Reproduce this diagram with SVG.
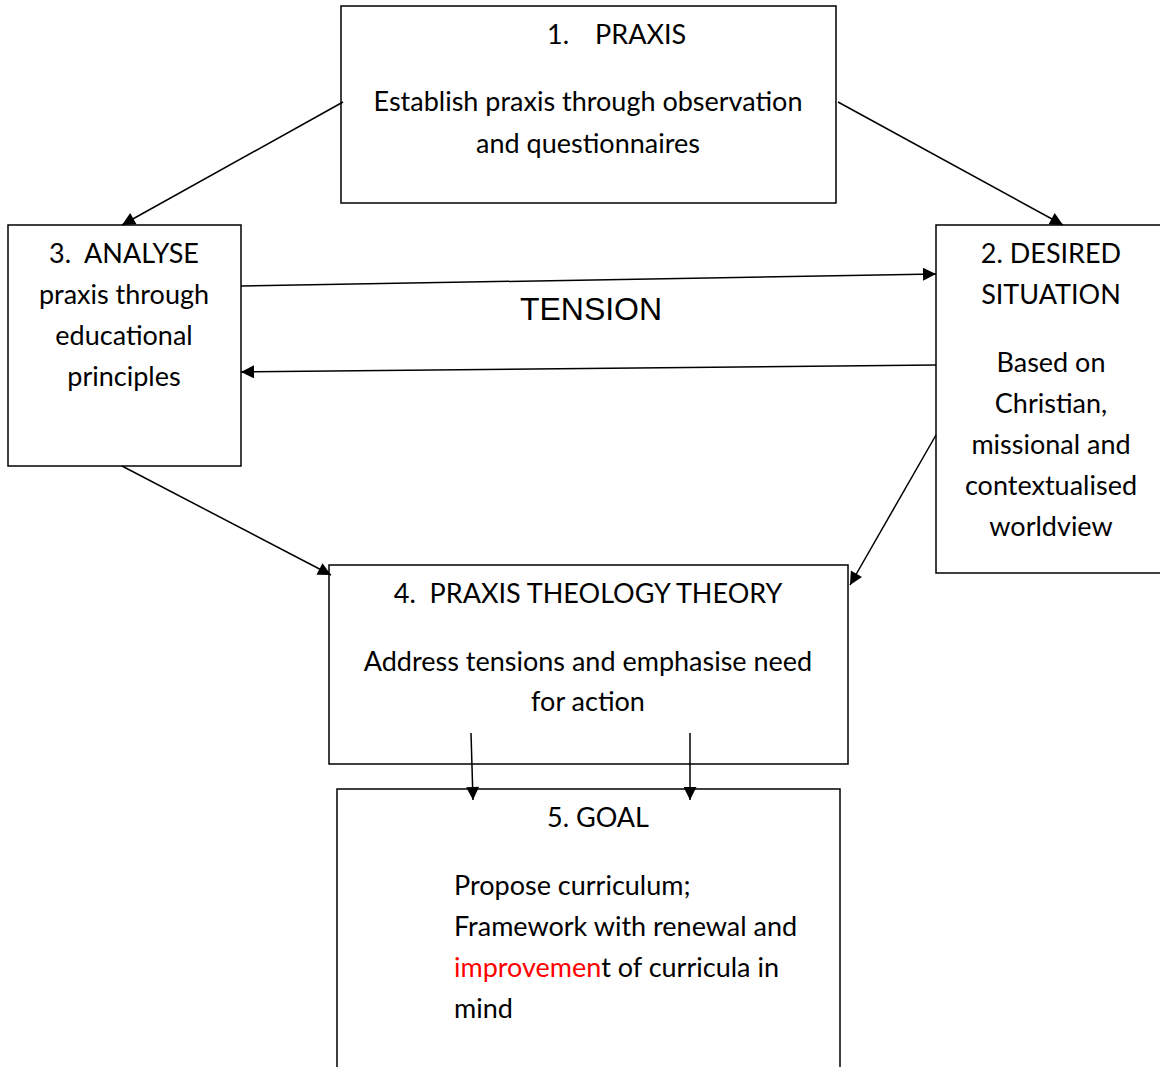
<svg xmlns="http://www.w3.org/2000/svg" width="1160" height="1067" viewBox="0 0 1160 1067">
<style>
.box{fill:#fff;stroke:#000;stroke-width:1.5}
.t{font-family:Lato,"Open Sans","Liberation Sans",sans-serif;font-size:27px;fill:#000;white-space:pre}
.c{text-anchor:middle}
.ln{stroke:#000;stroke-width:1.5;fill:none}
</style>
<defs>
<marker id="ah" viewBox="0 0 10 10" refX="10" refY="5" markerWidth="14" markerHeight="13" markerUnits="userSpaceOnUse" orient="auto">
<path d="M0,0 L10,5 L0,10 z" fill="#000"/>
</marker>
</defs>
<rect width="1160" height="1067" fill="#fff"/>
<g id="node1">
<rect class="box" x="341" y="6" width="495" height="197"/>
<text class="t" x="547" y="44">1.</text>
<text class="t" x="595" y="44">PRAXIS</text>
<text class="t c" x="588" y="111">Establish praxis through observation</text>
<text class="t c" x="588" y="153">and questionnaires</text>
</g>
<g id="node3">
<rect class="box" x="8" y="225" width="233" height="241"/>
<text class="t c" x="124" y="263">3.  ANALYSE</text>
<text class="t c" x="124" y="304">praxis through</text>
<text class="t c" x="124" y="345">educational</text>
<text class="t c" x="124" y="386">principles</text>
</g>
<g id="node2">
<rect class="box" x="936" y="225" width="230" height="348"/>
<text class="t c" x="1051" y="263">2. DESIRED</text>
<text class="t c" x="1051" y="304">SITUATION</text>
<text class="t c" x="1051" y="372">Based on</text>
<text class="t c" x="1051" y="413">Christian,</text>
<text class="t c" x="1051" y="454">missional and</text>
<text class="t c" x="1051" y="495">contextualised</text>
<text class="t c" x="1051" y="536">worldview</text>
</g>
<g id="node4">
<rect class="box" x="329" y="565" width="519" height="199"/>
<text class="t c" x="588" y="603">4.  PRAXIS THEOLOGY THEORY</text>
<text class="t c" x="588" y="671">Address tensions and emphasise need</text>
<text class="t c" x="588" y="711">for action</text>
</g>
<g id="node5">
<rect class="box" x="337" y="789" width="503" height="290"/>
<text class="t c" x="598" y="827">5. GOAL</text>
<text class="t" x="454" y="895">Propose curriculum;</text>
<text class="t" x="454" y="936">Framework with renewal and</text>
<text class="t" x="454" y="977"><tspan fill="#ff0000">improvemen</tspan>t of curricula in</text>
<text class="t" x="454" y="1018">mind</text>
</g>
<g id="label-tension">
<text x="591" y="320" text-anchor="middle" font-family="'Liberation Sans',Arial,sans-serif" font-size="32" fill="#000">TENSION</text>
</g>
<g id="connectors">
<line class="ln" x1="343" y1="102" x2="122" y2="225" marker-end="url(#ah)"/>
<line class="ln" x1="838" y1="102" x2="1063" y2="225" marker-end="url(#ah)"/>
<line class="ln" x1="241" y1="286" x2="936" y2="274" marker-end="url(#ah)"/>
<line class="ln" x1="936" y1="365" x2="241" y2="372" marker-end="url(#ah)"/>
<line class="ln" x1="122" y1="466" x2="331" y2="575" marker-end="url(#ah)"/>
<line class="ln" x1="936" y1="435" x2="850" y2="585" marker-end="url(#ah)"/>
<line class="ln" x1="471" y1="733" x2="473" y2="800" marker-end="url(#ah)"/>
<line class="ln" x1="690" y1="733" x2="690" y2="800" marker-end="url(#ah)"/>
</g>
</svg>
